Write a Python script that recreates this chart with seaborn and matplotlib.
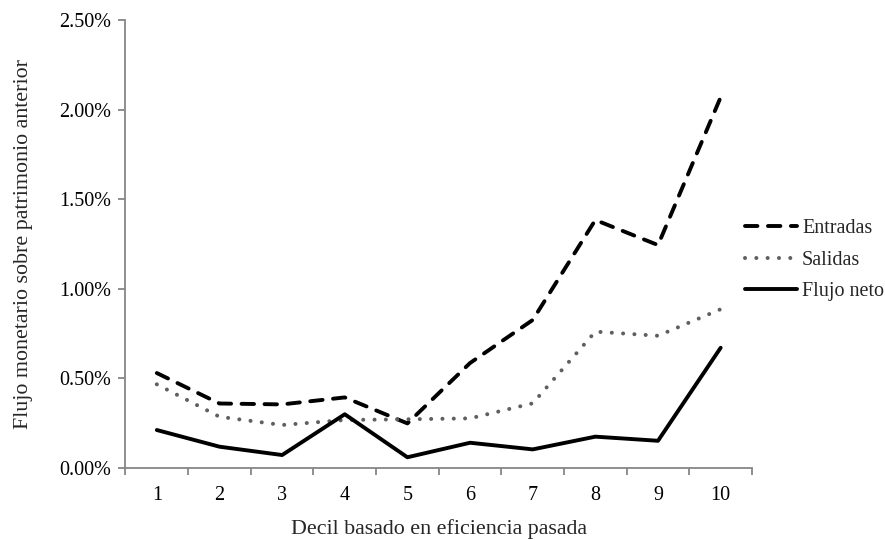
import matplotlib
matplotlib.use("Agg")
import matplotlib.pyplot as plt
from matplotlib.ticker import FuncFormatter, FixedLocator
import pandas as pd
import seaborn as sns

# Deciles of past efficiency and the money flows (% of prior assets)
deciles = [1, 2, 3, 4, 5, 6, 7, 8, 9, 10]
entradas = [0.53, 0.36, 0.355, 0.394, 0.249, 0.586, 0.826, 1.384, 1.244, 2.069]
salidas = [0.467, 0.286, 0.24, 0.268, 0.272, 0.277, 0.361, 0.761, 0.738, 0.886]
flujo_neto = [0.212, 0.119, 0.0725, 0.30, 0.06, 0.141, 0.104, 0.175, 0.152, 0.671]
y_ticks = [0.0, 0.5, 1.0, 1.5, 2.0, 2.5]

sns.set_theme(style="white")
plt.rcParams["font.family"] = ["Liberation Serif", "DejaVu Serif"]
plt.rcParams["font.size"] = 14.5

df = pd.DataFrame({"Decil": deciles, "Entradas": entradas,
                   "Salidas": salidas, "Flujo neto": flujo_neto})

fig = plt.figure(figsize=(8.85, 5.4), dpi=100)
ax = fig.add_axes([0.1418, 0.1333, 0.7079, 0.8297])

sns.lineplot(data=df, x="Decil", y="Entradas", ax=ax, color="black",
             linewidth=2.8, linestyle=(0, (3.2, 2.7)), label="Entradas",
             dash_capstyle="round")
sns.lineplot(data=df, x="Decil", y="Salidas", ax=ax, color="#5f5f5f",
             linewidth=2.9, linestyle=(0, (0.01, 2.8)), label="Salidas",
             dash_capstyle="round")
sns.lineplot(data=df, x="Decil", y="Flujo neto", ax=ax, color="black",
             linewidth=2.8, linestyle="-", label="Flujo neto")

ax.set_xlim(0.5, 10.5)
ax.set_ylim(0, 2.5)
ax.set_xticks(deciles)
ax.set_xticklabels([str(d) for d in deciles])
ax.xaxis.set_minor_locator(FixedLocator([d - 0.5 for d in deciles] + [10.5]))
ax.set_yticks(y_ticks)
ax.yaxis.set_major_formatter(FuncFormatter(lambda v, p: f"{v:.2f}%"))

axis_gray = "#868686"
for side in ["top", "right"]:
    ax.spines[side].set_visible(False)
for side in ["left", "bottom"]:
    ax.spines[side].set_color(axis_gray)
    ax.spines[side].set_linewidth(1.3)

ax.tick_params(axis="x", which="major", length=0, pad=13, labelsize=14.5,
               colors="black")
ax.tick_params(axis="x", which="minor", length=5, width=1.3, color=axis_gray,
               bottom=True, direction="out")
ax.tick_params(axis="y", which="major", length=5, width=1.3, color=axis_gray,
               left=True, direction="out", pad=5, labelsize=14.5,
               labelcolor="black")

ax.set_xlabel("Decil basado en eficiencia pasada", fontsize=15.8, labelpad=10)
ax.set_ylabel("Flujo monetario sobre patrimonio anterior", fontsize=15.8,
              labelpad=19)

leg = ax.legend(loc="center left", bbox_to_anchor=(0.821, 0.5185),
                bbox_transform=fig.transFigure, frameon=False,
                handlelength=2.6, handletextpad=0.25, labelspacing=0.62,
                fontsize=14.5)

fig.savefig("out.png", dpi=100)
